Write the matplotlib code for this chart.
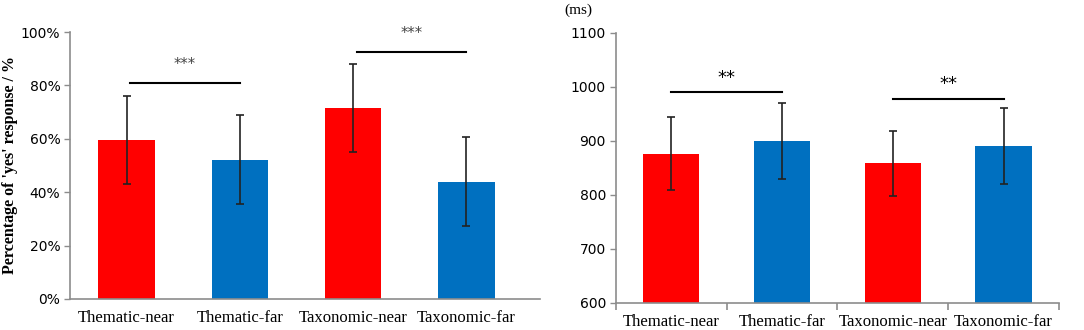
import matplotlib.pyplot as plt
import numpy as np

# data
conditions = ["Thematic-near", "Thematic-far", "Taxonomic-near", "Taxonomic-far"]
yes_rate = [59.6, 52.2, 71.5, 44.0]      # %
yes_err = [16.6, 16.7, 16.6, 16.8]
rt_mean = [876, 900, 858, 890]           # ms
rt_err = [68, 70, 61, 70]
bar_colors = ["#FF0000", "#0070C0", "#FF0000", "#0070C0"]

# significance brackets: (from, to, height, label)
sig_left = [(0, 1, 81, "***"), (2, 3, 92.5, "***")]
sig_right = [(0, 1, 990, "**"), (2, 3, 978, "**")]

serif = "Liberation Serif"
sans = "DejaVu Sans"
spine_col = "#8c8c8c"

fig = plt.figure(figsize=(10.84, 3.30), dpi=100)
ax1 = fig.add_axes([0.0646, 0.094, 0.4336, 0.809])
ax2 = fig.add_axes([0.568, 0.083, 0.409, 0.817])

x = np.arange(len(conditions))


def style_axis(ax):
    for s in ["top", "right"]:
        ax.spines[s].set_visible(False)
    for s in ["left", "bottom"]:
        ax.spines[s].set_color(spine_col)
        ax.spines[s].set_linewidth(1.2)
    ax.tick_params(axis="y", color=spine_col, length=4, width=1, labelsize=10, pad=3)
    for lab in ax.get_yticklabels():
        lab.set_family(sans)


# left panel
ax1.bar(x, yes_rate, width=0.5, color=bar_colors)
ax1.errorbar(x, yes_rate, yerr=yes_err, fmt="none", ecolor="#222222",
             elinewidth=1.2, capsize=3, capthick=1.2)
ax1.set_xlim(-0.5, 3.65)
ax1.set_ylim(0, 100)
ax1.set_yticks(np.arange(0, 101, 20))
ax1.set_yticklabels(["%d%%" % v for v in range(0, 101, 20)])
ax1.set_xticks(x)
ax1.set_xticklabels(conditions, family=serif, fontsize=12)
ax1.tick_params(axis="x", length=0, pad=8)
style_axis(ax1)
fig.text(10 / 1084, 0.5, "Percentage of 'yes' response / %", family=serif,
         fontweight="bold", fontsize=11.5, rotation=90, ha="center", va="center")
for a, b, h, lab in sig_left:
    ax1.plot([a + 0.03, b], [h, h], color="black", lw=1.5, clip_on=False)
    ax1.text((a + b) / 2 + 0.015, h + 4, lab, ha="center", va="bottom",
             fontsize=10.5, color="#444444", family=sans)

# right panel
ax2.bar(x, [m - 600 for m in rt_mean], bottom=600, width=0.51, color=bar_colors)
ax2.errorbar(x, rt_mean, yerr=rt_err, fmt="none", ecolor="#222222",
             elinewidth=1.2, capsize=3, capthick=1.2)
ax2.set_xlim(-0.5, 3.5)
ax2.set_ylim(600, 1100)
ax2.set_yticks(np.arange(600, 1101, 100))
ax2.set_xticks(x)
ax2.set_xticklabels(conditions, family=serif, fontsize=12)
ax2.tick_params(axis="x", length=0, pad=8)
ax2.set_xticks(np.arange(-0.5, 3.6, 1), minor=True)
ax2.tick_params(axis="x", which="minor", length=5, color=spine_col, width=1.2)
style_axis(ax2)
ax2.text(-0.115, 1.085, "(ms)", transform=ax2.transAxes, family=serif,
         fontsize=11, ha="left", va="center")
for a, b, h, lab in sig_right:
    ax2.plot([a, b], [h, h], color="black", lw=1.5, clip_on=False)
    ax2.text((a + b) / 2, h + 10, lab, ha="center", va="bottom",
             fontsize=13, color="black", family=sans)

fig.savefig("out.png", dpi=100)
